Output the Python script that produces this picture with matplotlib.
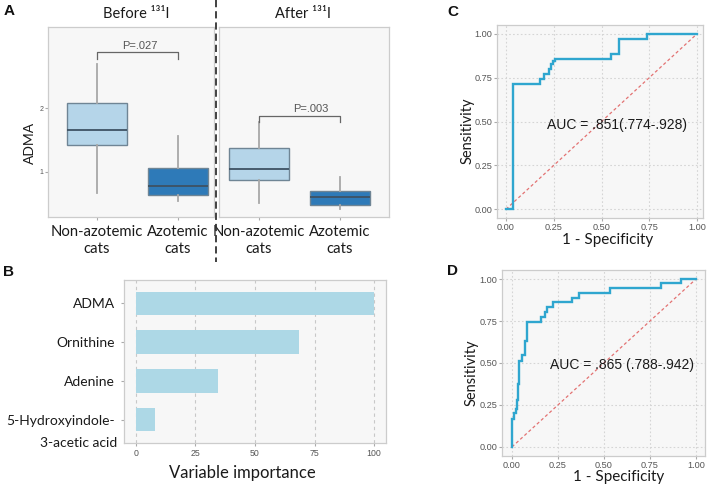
import matplotlib
matplotlib.use("Agg")
import matplotlib.pyplot as plt
from matplotlib.lines import Line2D

# ---------------- data ----------------
groups = ["Non-azotemic\ncats", "Azotemic\ncats"]
# (whislo, q1, median, q3, whishi)
before_nonaz = [0.67, 1.42, 1.66, 2.08, 2.69]
before_az = [0.54, 0.63, 0.78, 1.06, 1.56]
after_nonaz = [0.50, 0.865, 1.04, 1.375, 1.78]
after_az = [0.41, 0.47, 0.60, 0.70, 0.92]
p_before = "P=.027"
p_after = "P=.003"
adma_ticks = [1, 2]

vi_names = ["ADMA", "Ornithine", "Adenine", "5-Hydroxyindole-\n3-acetic acid"]
vi_values = [100, 68.5, 34.5, 8]
vi_ticks = [0, 25, 50, 75, 100]

roc_ticks = [0.0, 0.25, 0.5, 0.75, 1.0]
roc_tick_labels = ["0.00", "0.25", "0.50", "0.75", "1.00"]

c_fpr = [0, 0.039, 0.039, 0.176, 0.176, 0.201, 0.201, 0.224, 0.224, 0.235, 0.235,
         0.245, 0.245, 0.259, 0.259, 0.549, 0.549, 0.589, 0.589, 0.738, 0.738, 1.0]
c_tpr = [0, 0, 0.714, 0.714, 0.743, 0.743, 0.771, 0.771, 0.80, 0.80, 0.829,
         0.829, 0.843, 0.843, 0.857, 0.857, 0.886, 0.886, 0.971, 0.971, 1.0, 1.0]
c_auc = "AUC = .851(.774-.928)"

d_fpr = [0, 0, 0.011, 0.011, 0.022, 0.022, 0.029, 0.029, 0.033, 0.033, 0.040, 0.040,
         0.053, 0.053, 0.069, 0.069, 0.080, 0.080, 0.156, 0.156, 0.178, 0.178, 0.190,
         0.190, 0.223, 0.223, 0.326, 0.326, 0.363, 0.363, 0.533, 0.533, 0.811, 0.811,
         0.916, 0.916, 1.0]
d_tpr = [0, 0.166, 0.166, 0.20, 0.20, 0.226, 0.226, 0.28, 0.28, 0.373, 0.373, 0.513,
         0.513, 0.549, 0.549, 0.629, 0.629, 0.745, 0.745, 0.772, 0.772, 0.804, 0.804,
         0.832, 0.832, 0.862, 0.862, 0.887, 0.887, 0.917, 0.917, 0.947, 0.947, 0.974,
         0.974, 1.0, 1.0]
d_auc = "AUC = .865 (.788-.942)"

# ---------------- style ----------------
W, H = 709, 488
fig = plt.figure(figsize=(W / 100, H / 100), dpi=100)
fig.patch.set_facecolor("white")

LABF = "Lato"
GGF = "Liberation Sans"
PANEL_BG = "#F7F7F7"
BORDER = "#CCCCCC"
LIGHT = "#B5D5E9"
DARK = "#2E7AB8"
TICKC = "#555555"


def add_ax(l, t, r, b):
    return fig.add_axes([l / W, 1 - b / H, (r - l) / W, (b - t) / H])


def style_panel(ax):
    ax.set_facecolor(PANEL_BG)
    for s in ax.spines.values():
        s.set_color(BORDER)
        s.set_linewidth(0.9)


def ftext(x, y, s, **kw):
    fig.text(x / W, 1 - y / H, s, **kw)


# ---------------- Panel A ----------------
def box_panel(ax, stats_list, xlim, pval, p_y, p_leg, p_tx, p_ty, show_y):
    style_panel(ax)
    stats = []
    for s in stats_list:
        stats.append(dict(whislo=s[0], q1=s[1], med=s[2], q3=s[3], whishi=s[4], fliers=[]))
    bp = ax.bxp(stats, positions=[0, 1], widths=0.75, patch_artist=True,
                showfliers=False, showcaps=False,
                boxprops=dict(edgecolor="#6F8595", linewidth=1.0),
                whiskerprops=dict(color="#A8A8A8", linewidth=1.3),
                medianprops=dict(color="#3E5263", linewidth=1.3))
    for patch, col in zip(bp["boxes"], [LIGHT, DARK]):
        patch.set_facecolor(col)
    ax.set_xlim(*xlim)
    ax.set_ylim(0.285, 3.28)
    ax.set_xticks([0, 1])
    ax.set_xticklabels(groups, fontfamily=LABF, fontsize=10.7, color="#1A1A1A",
                       linespacing=1.2)
    ax.tick_params(axis="x", length=2, color="#AAAAAA", pad=4)
    if show_y:
        ax.set_yticks(adma_ticks)
        ax.set_yticklabels([str(t) for t in adma_ticks], fontfamily=GGF,
                           fontsize=5, color=TICKC)
        ax.tick_params(axis="y", length=2, color="#AAAAAA", pad=1.5)
    else:
        ax.set_yticks([])
    # bracket
    ax.plot([0, 0, 1, 1], [p_leg, p_y, p_y, p_leg], color="#666666", lw=0.9)
    ax.text(p_tx, p_ty, pval, ha="center", va="center", fontfamily=GGF,
            fontsize=8, color="#555555")


axA1 = add_ax(48, 27, 214, 217)
box_panel(axA1, [before_nonaz, before_az], (-0.605, 1.444), p_before,
          2.888, 2.775, 0.53, 2.975, True)
axA2 = add_ax(219, 27, 389, 217)
box_panel(axA2, [after_nonaz, after_az], (-0.494, 1.605), p_after,
          1.87, 1.775, 0.64, 1.99, False)

ftext(136, 14, "Before \u00b9\u00b3\u00b9I", ha="center", va="center",
      fontfamily=LABF, fontsize=10.5, color="#1A1A1A")
ftext(303, 14, "After \u00b9\u00b3\u00b9I", ha="center", va="center",
      fontfamily=LABF, fontsize=10.5, color="#1A1A1A")
ftext(30, 143, "ADMA", ha="center", va="center", rotation=90,
      fontfamily=LABF, fontsize=10, color="#1A1A1A")
fig.add_artist(Line2D([216 / W, 216 / W], [1.0, 1 - 262 / H], transform=fig.transFigure,
                      color="#333333", lw=1.3, linestyle=(0, (4, 2.2))))

# ---------------- Panel B ----------------
axB = add_ax(124, 280, 386, 443)
style_panel(axB)
ypos = list(range(len(vi_names), 0, -1))
axB.barh(ypos, vi_values, height=0.6, color="#ADD8E6", zorder=2)
axB.set_xlim(-5, 105)
axB.set_ylim(0.4, 4.6)
axB.set_xticks(vi_ticks)
axB.set_xticklabels([str(t) for t in vi_ticks], fontfamily=GGF, fontsize=6.3, color=TICKC)
axB.xaxis.grid(True, linestyle=(0, (3, 3)), color="#C8C8C8", lw=0.8, zorder=0)
axB.set_axisbelow(True)
axB.set_yticks(ypos)
axB.set_yticklabels([n.split("\n")[0] for n in vi_names], fontfamily=LABF,
                    fontsize=10, color="#1A1A1A")
axB.tick_params(axis="both", length=2.5, color="#AAAAAA")
axB.tick_params(axis="y", pad=4)
axB.tick_params(axis="x", pad=2)
for n, y in zip(vi_names, ypos):
    if "\n" in n:
        rest = n.split("\n", 1)[1]
        yp = 280 + (4.6 - y) / 4.2 * 163 + 23
        ftext(117.5, yp, rest, ha="right", va="center", fontfamily=LABF,
              fontsize=10, color="#1A1A1A")
ftext(242, 473, "Variable importance", ha="center", va="center",
      fontfamily=LABF, fontsize=12, color="#1A1A1A")


# ---------------- Panels C & D ----------------
def roc_panel(ax, fpr, tpr, auc, xlim, ylim, ax_x, ax_y):
    style_panel(ax)
    ax.set_xlim(*xlim)
    ax.set_ylim(*ylim)
    ax.set_xticks(roc_ticks)
    ax.set_yticks(roc_ticks)
    ax.set_xticklabels(roc_tick_labels, fontfamily=GGF, fontsize=6.6, color=TICKC)
    ax.set_yticklabels(roc_tick_labels, fontfamily=GGF, fontsize=6.6, color=TICKC)
    ax.tick_params(axis="both", length=2, color="#AAAAAA", pad=1.5)
    ax.grid(True, linestyle=(0, (1.5, 2)), color="#D5D5D5", lw=0.8)
    ax.set_axisbelow(True)
    ax.plot([0, 1], [0, 1], color="#E37272", lw=0.9, linestyle=(0, (2.5, 2)))
    ax.plot(fpr, tpr, color="#2FA6CF", lw=1.7, solid_joinstyle="miter")
    ax.text(ax_x, ax_y, auc, ha="left", va="center", fontfamily=GGF,
            fontsize=10, color="#1A1A1A")


axC = add_ax(497, 25, 703, 218)
roc_panel(axC, c_fpr, c_tpr, c_auc, (-0.047, 1.031), (-0.05, 1.05), 0.215, 0.48)
ftext(467.5, 131, "Sensitivity", ha="center", va="center", rotation=90,
      fontfamily=LABF, fontsize=10.5, color="#1A1A1A")
ftext(608, 240, "1 - Specificity", ha="center", va="center",
      fontfamily=LABF, fontsize=11, color="#1A1A1A")

axD = add_ax(502, 270, 705, 456)
roc_panel(axD, d_fpr, d_tpr, d_auc, (-0.054, 1.049), (-0.054, 1.054), 0.207, 0.49)
ftext(471.5, 372.5, "Sensitivity", ha="center", va="center", rotation=90,
      fontfamily=LABF, fontsize=10.5, color="#1A1A1A")
ftext(619, 477, "1 - Specificity", ha="center", va="center",
      fontfamily=LABF, fontsize=11, color="#1A1A1A")

# panel letters
for lab, x, y in [("A", 9, 11), ("B", 8, 272), ("C", 453, 12), ("D", 453, 271)]:
    ftext(x, y, lab, ha="center", va="center", fontfamily=GGF, fontweight="bold",
          fontsize=11, color="#111111")

fig.savefig("out.png", dpi=100)
